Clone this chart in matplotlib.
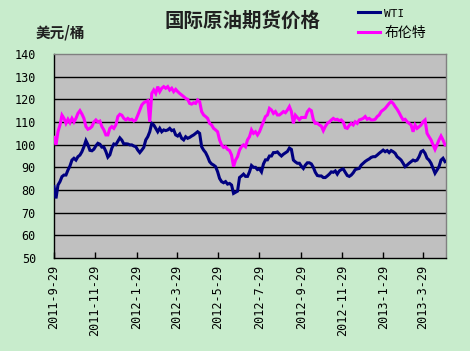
import numpy as np
import matplotlib
matplotlib.use("Agg")
import matplotlib.pyplot as plt

plt.rcParams['font.family'] = ['Noto Sans CJK SC', 'DejaVu Sans']

title = "国际原油期货价格"
unit_label = "美元/桶"
series_names = ["WTI", "布伦特"]

# trading-day positions of the date ticks and their labels
tick_pos = [0, 41, 83, 123, 164, 206, 248, 289, 330, 370]
tick_labels = ["2011-9-29", "2011-11-29", "2012-1-29", "2012-3-29", "2012-5-29",
               "2012-7-29", "2012-9-29", "2012-11-29", "2013-1-29", "2013-3-29"]
step_days = 2  # readings taken every 2 trading days

brent = [
    103.2, 99.9, 105.7, 108.7, 113, 111.6, 109.4, 111.2, 109.7, 111.6,
    110, 111.6, 113.8, 115, 113.5, 111.6, 108, 106.8, 107.2, 108,
    110, 110.9, 110, 110.4, 108, 106.5, 104.3, 104.3, 107.2, 108,
    107.2, 108.7, 112.4, 113.4, 113, 111.6, 110.9, 111.6, 110.9, 111.2,
    110.4, 110.9, 113, 115.3, 117.5, 118.5, 119, 119.4, 110.1, 122.6,
    124.1, 122.6, 125.6, 123.4, 124.9, 125.6, 124.9, 125.6, 124.1, 124.9,
    123.4, 124.4, 123.4, 122.6, 121.9, 121.2, 120.4, 120, 118.2, 117.9,
    118.5, 118.2, 119.7, 119, 114.6, 113.1, 112.4, 111.6, 109.4,
    108.7, 107.2, 106.5, 105.7, 102.1, 99.9, 98.8, 99.1, 97.9, 97.4,
    95.4, 90.3, 93.2, 94.7, 97.6, 99.1, 99.9, 99.1, 102.1, 103.5,
    106.5, 105, 105.7, 104.3, 105.7, 107.9, 110.1, 112.4, 113.1, 116,
    115.3, 113.8, 114.6, 113.1, 113.1, 113.8, 114.6, 114.1, 115.3, 116.8,
    114.6, 109.4, 113, 112, 111, 112, 112, 112, 114.5, 115.6,
    115, 111, 109.4, 109.4, 108.7, 108.2, 106.2, 108, 109.4, 110,
    110.9, 111.6, 111, 111.2, 110.6, 110.9, 110, 107.5, 107.2, 108.5,
    109.4, 108.7, 110.1, 109.4, 110.9, 111.2, 111.6, 112.4, 111.2, 111.6,
    110.9, 110.9, 111.2, 112.4, 113.1, 114.6, 115.3, 116, 117.1, 118.2,
    119, 118.2, 116.8, 115.6, 114.1, 112.4, 110.9, 111.2, 110.1, 109.4,
    108.7, 105.7, 108.7, 107.2, 107.9, 108.7, 110.1, 110.9, 105, 103.5,
    102.1, 99.9, 97.9, 99.9, 102.1, 103.8, 102.1, 99.9,
]

wti = [
    81.5, 76.3, 82.2, 83.7, 85.9, 86.6, 86.6, 88.8, 90.6, 93.2,
    94, 93.2, 94.7, 95.4, 96.9, 99.1, 101.8, 100, 97.5, 97.3,
    98, 99.5, 100.6, 100.2, 98.9, 98.9, 97, 94.5, 95.5, 98.5,
    100.3, 100, 101.5, 103, 102, 100.3, 100.4, 100.3, 99.9, 99.9,
    99.4, 99.1, 97.6, 96.5, 97.6, 98.8, 102.1, 103.5, 105.7, 109.4,
    108.7, 107.2, 105.7, 107.2, 105.7, 106.5, 106.2, 106.5, 107.2, 106.2,
    106.5, 104.3, 103.8, 104.7, 102.8, 102.1, 103.5, 102.8, 103.2, 103.8,
    104.3, 105, 105.7, 105, 99.1, 97.6, 96.5, 94.7, 92.5,
    91.5, 91, 90.3, 88.1, 85.1, 83.7, 83.2, 83.7, 82.6, 82.9,
    82.2, 78.5, 79, 79.5, 85.5, 86.2, 87, 86, 86, 88,
    90.8, 90, 90, 89, 89.3, 88, 91.5, 93.3, 93.3, 95,
    95, 96.5, 96.5, 96.8, 95.8, 95, 95.8, 96.4, 97, 98.5,
    97.9, 93.2, 92.4, 91.8, 91.8, 90.5, 89.5, 91, 92, 92,
    91.5, 90, 87.8, 86.4, 86.2, 86.2, 85.5, 85.5, 86.2, 87,
    88, 87.8, 88.4, 87, 88.4, 89, 89.3, 87.8, 86.4, 86,
    86.6, 87.6, 89, 89.3, 89.5, 91, 91.8, 92.6, 93.2, 93.7,
    94.4, 94.7, 94.7, 95.4, 96.2, 96.9, 97.6, 96.9, 97.4, 96.5,
    97.4, 96.9, 96.2, 94.7, 94, 93.2, 91.8, 90.3, 91, 91.8,
    92.5, 93.2, 92.8, 93.2, 94.7, 96.9, 97.4, 96.2, 94, 93.2,
    91.8, 89.6, 87.4, 88.8, 90.3, 93.2, 94, 92.5,
]

yticks = list(range(50, 141, 10))

bg = '#C8ECCC'
fig = plt.figure(figsize=(4.70, 3.51), dpi=100, facecolor=bg)
ax = fig.add_axes([54/470, 1-258/351, (446-54)/470, (258-54)/351])
ax.set_facecolor('#C0C0C0')

x_w = np.arange(len(wti)) * step_days
x_b = np.arange(len(brent)) * step_days
l1, = ax.plot(x_w, wti, color='#000080', lw=2.2, solid_joinstyle='miter', zorder=3)
l2, = ax.plot(x_b, brent, color='#FF00FF', lw=2.2, solid_joinstyle='miter', zorder=3)

ax.set_xlim(0, 393)
ax.set_ylim(50, 140)
ax.set_yticks(yticks)
ax.set_yticklabels([str(v) for v in yticks], family='DejaVu Sans Mono', fontsize=8.5)
ax.set_xticks(tick_pos)
ax.set_xticklabels(tick_labels, rotation=90, family='DejaVu Sans Mono', fontsize=8.5)
ax.tick_params(axis='x', direction='in', length=4, width=1, color='black', pad=5)
ax.tick_params(axis='y', length=0, pad=13)
for v in yticks[1:-1]:
    ax.axhline(v, color='black', lw=1.0, zorder=1)

for s in ['left', 'bottom']:
    ax.spines[s].set_color('black')
    ax.spines[s].set_linewidth(1.0)
for s in ['top', 'right']:
    ax.spines[s].set_color('#808080')
    ax.spines[s].set_linewidth(1.0)

fig.text(243/470, 1-21/351, title, ha='center', va='center', fontsize=14,
         fontweight='bold', color='#202020')
fig.text(60/470, 1-33/351, unit_label, ha='center', va='center', fontsize=10.5,
         fontweight='bold', color='#202020')

leg = fig.legend([l1, l2], series_names, loc='upper left',
                 bbox_to_anchor=(358/470, 1-7/351), frameon=False,
                 fontsize=10, handlelength=1.6, handletextpad=0.3,
                 labelspacing=0.55, borderaxespad=0, borderpad=0)
leg.get_texts()[0].set_family('DejaVu Sans Mono')
leg.get_texts()[0].set_fontsize(8)

fig.savefig('out.png', dpi=100, facecolor=bg)
